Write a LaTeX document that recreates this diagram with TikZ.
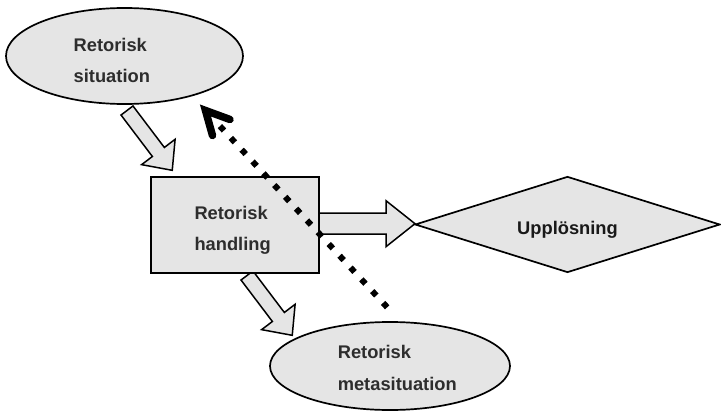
\documentclass[tikz,border=0pt]{standalone}
\usepackage{fontspec}
\setmainfont{Liberation Sans}
\usetikzlibrary{shapes.geometric,calc}
\definecolor{shapefill}{RGB}{229,229,229}
\definecolor{txtgray}{RGB}{45,45,45}
\definecolor{txtdark}{RGB}{25,25,25}
\newcommand{\barrowpath}[4]{(0,-#2/2) -- (#1-#4,-#2/2) -- (#1-#4,-#3/2) -- (#1,0) -- (#1-#4,#3/2) -- (#1-#4,#2/2) -- (0,#2/2) -- cycle}
\begin{document}
\begin{tikzpicture}[x=1pt,y=-1pt,
  shapestyle/.style={draw=black, line width=1.7pt, fill=shapefill, inner sep=0pt},
  blockarr/.style={draw=black, line width=1.5pt, fill=shapefill, line join=miter},
  lbl/.style={anchor=base west, inner sep=0pt, font=\fontsize{18.3}{22}\selectfont\bfseries, text=txtgray},
  dotline/.style={line width=6pt, dash pattern=on 6pt off 10.04pt, line cap=butt},
  chev/.style={line width=7.5pt, line cap=round, line join=miter}]
\useasboundingbox (0,0) rectangle (721,415);

% tails of the block arrows
\coordinate (a1tail) at (127,110.5);
\coordinate (a2tail) at (319,223.7);
\coordinate (a3tail) at (247,275.5);

% block arrows (beneath the shapes)
\draw[blockarr, shift={(a1tail)}, rotate=-52.9] \barrowpath{75}{15}{42}{23};
\draw[blockarr, shift={(a3tail)}, rotate=-52.9] \barrowpath{75}{15}{42}{23};
\draw[blockarr, shift={(a2tail)}] \barrowpath{96}{21}{46}{29};

% shapes
\node[shapestyle, ellipse, minimum width=237pt, minimum height=96pt] (sit) at (124.5,56) {};
\node[shapestyle, rectangle, minimum width=168pt, minimum height=96pt] (act) at (235,225) {};
\node[shapestyle, diamond, minimum width=305pt, minimum height=96pt] (res) at (567.5,224.5) {};
\node[shapestyle, ellipse, minimum width=240pt, minimum height=88pt] (meta) at (390,366) {};

% labels
\node[lbl] (l1a) at (73.5,51.7) {Retorisk};
\node[lbl] (l1b) at (73.5,82.7) {situation};
\node[lbl] (l2a) at (194.3,219) {Retorisk};
\node[lbl] (l2b) at (194.3,250.7) {handling};
\node[lbl, text=txtdark] (l3) at (517,234.3) {Upplösning};
\node[lbl] (l4a) at (337.6,358.3) {Retorisk};
\node[lbl] (l4b) at (337.6,390) {metasituation};

% dotted feedback arrow
\coordinate (ms) at (387.2,307.3);
\coordinate (mt) at (205.5,110.5);
\draw[dotline] (ms) -- ($(ms)!246.6pt!(mt)$);
\draw[chev] ($(mt)+(7,25)$) -- (mt) -- ($(mt)+(24.5,9)$);
\end{tikzpicture}
\end{document}
